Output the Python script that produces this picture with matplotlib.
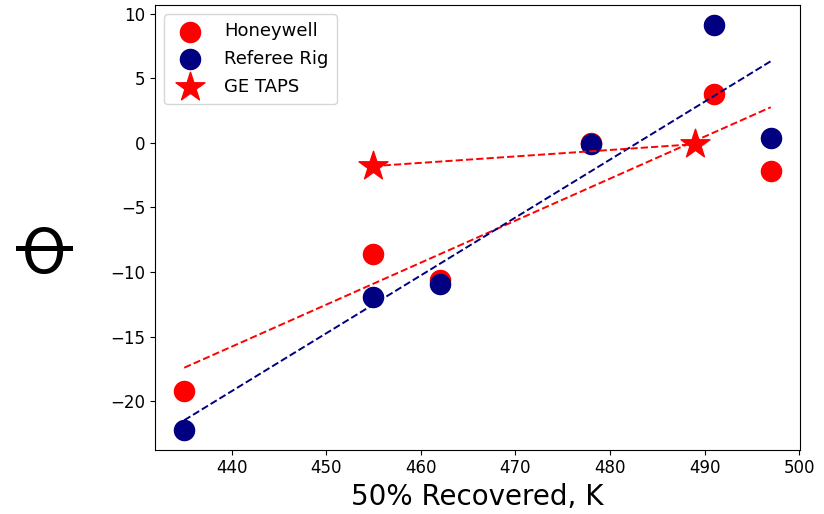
import matplotlib
matplotlib.use("Agg")
import matplotlib.pyplot as plt
from matplotlib.lines import Line2D
import numpy as np

# 50% recovered temperature (K) against theta for each data source
recovered_k = [435, 455, 462, 478, 491, 497]
honeywell = [-19.2, -8.6, -10.6, 0.0, 3.8, -2.2]
referee_rig = [-22.2, -11.9, -10.9, -0.1, 9.1, 0.4]
ge_taps_k = [455, 489]
ge_taps = [-1.8, -0.1]

W, H = 824, 514
fig = plt.figure(figsize=(W / 100, H / 100), dpi=100)
ax = fig.add_axes([0.188, 0.125, 0.783, 0.865])

ax.scatter(recovered_k, honeywell, s=210, color="red", label="Honeywell", zorder=2)
ax.scatter(recovered_k, referee_rig, s=210, color="navy", label="Referee Rig", zorder=2)
ax.scatter(ge_taps_k, ge_taps, s=480, marker="*", color="red", label="GE TAPS", zorder=2)

# linear fits for each series
xs = np.array([min(recovered_k), max(recovered_k)])
for ys, c in [(honeywell, "red"), (referee_rig, "navy")]:
    m, b = np.polyfit(recovered_k, ys, 1)
    ax.plot(xs, m * xs + b, "--", color=c, lw=1.4, zorder=3)
m, b = np.polyfit(ge_taps_k, ge_taps, 1)
gx = np.array(ge_taps_k)
ax.plot(gx, m * gx + b, "--", color="red", lw=1.4, zorder=3)

ax.set_xticks(range(440, 501, 10))
ax.set_yticks(range(-20, 11, 5))
ax.tick_params(labelsize=12)
ax.set_xlabel("50% Recovered, K", fontsize=20)

# y label: theta with a long crossbar
fig.text(44 / W, 1 - 256 / H, "Θ", fontsize=45, ha="center", va="center",
         fontstretch="condensed")
fig.add_artist(Line2D([18 / W, 70 / W], [1 - 248 / H, 1 - 248 / H],
                      transform=fig.transFigure, color="black", lw=3.6))

ax.legend(loc="upper left", fontsize=13, scatterpoints=1, handletextpad=0.9,
          borderpad=0.45, labelspacing=0.55)

fig.savefig("out.png", dpi=100)
